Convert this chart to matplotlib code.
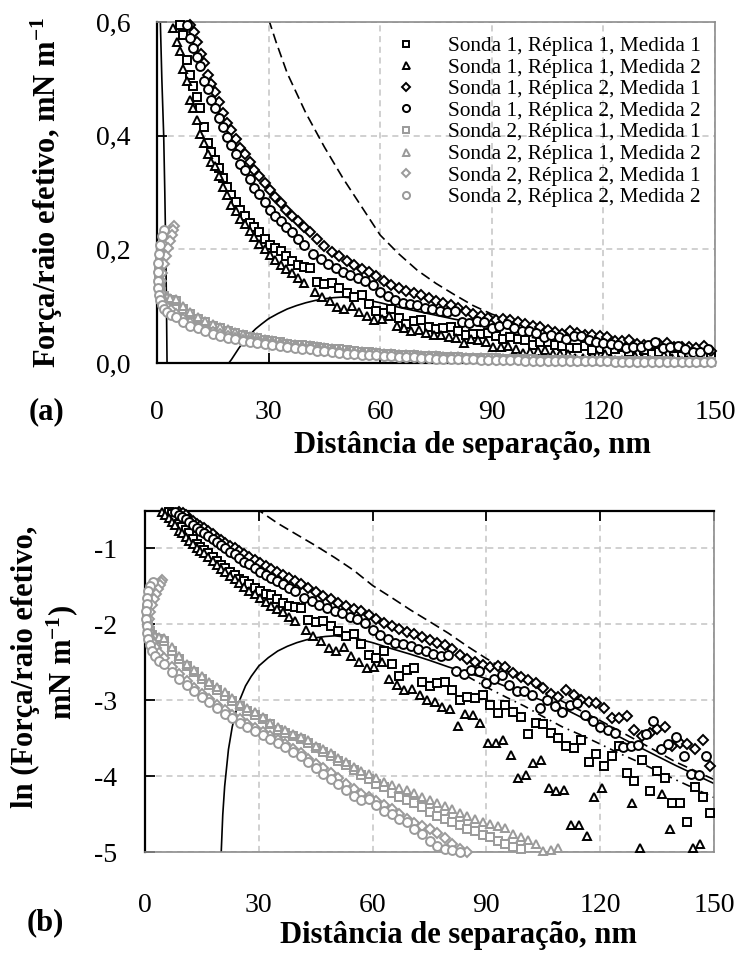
import numpy as np
import matplotlib
matplotlib.use("Agg")
import matplotlib.pyplot as plt

plt.rcParams['font.family'] = ['Liberation Serif', 'DejaVu Serif']
plt.rcParams['mathtext.fontset'] = 'custom'
plt.rcParams['mathtext.rm'] = 'Liberation Serif'
plt.rcParams['mathtext.it'] = 'Liberation Serif:italic'
plt.rcParams['mathtext.bf'] = 'Liberation Serif:bold'

# ---------------------------------------------------------------------------
# Measured ln(force / effective radius) [ln(mN/m)].
# Close to contact the separation steps are finer (listed explicitly);
# further out the curves are sampled every 2 nm.
# ---------------------------------------------------------------------------
STEP = 2.0

# Probe 1, replica 1, run 1
sep_near_s1r1m1 = [6.2, 7.1, 8.0, 8.9, 9.8, 10.7, 11.6, 12.6, 13.6, 14.6, 15.6, 16.7, 17.8,
                   18.9, 20.0, 21.2, 22.4, 23.6, 24.9, 26.2, 27.5, 28.9, 30.3, 31.8, 33.3,
                   34.8, 36.4, 38.0, 39.6]
ln_near_s1r1m1 = [-0.52, -0.55, -0.63, -0.68, -0.72, -0.76, -0.80, -0.88, -0.95, -0.99,
                  -1.03, -1.07, -1.12, -1.17, -1.22, -1.26, -1.31, -1.35, -1.40, -1.43,
                  -1.47, -1.52, -1.57, -1.60, -1.62, -1.67, -1.72, -1.76, -1.78]
start_far_s1r1m1 = 41.0
ln_far_s1r1m1 = [-1.79, -1.95, -1.97,
                 -1.96, -2.03, -2.09, -2.16, -2.13, -2.26, -2.40, -2.44, -2.36, -2.53,
                 -2.68, -2.60, -2.58, -2.76, -2.82, -2.78, -2.76, -2.87, -3.00, -2.96,
                 -2.97, -2.93, -3.06, -3.17, -3.07, -3.16, -3.22, -3.45, -3.30, -3.31,
                 -3.43, -3.50, -3.61, -3.63, -3.52, -3.81, -3.71, -3.87, -3.74, -3.60,
                 -3.96, -4.07, -3.79, -4.20, -3.94, -4.02, -4.36, -4.36, -4.60, -4.15,
                 -4.28, -4.49]

# Probe 1, replica 1, run 2
sep_near_s1r1m2 = [4.4, 5.3, 6.2, 7.1, 8.0, 8.9, 9.8, 10.7, 11.6, 12.6, 13.6, 14.6, 15.6,
                   16.7, 17.8, 18.9, 20.0, 21.2, 22.4, 23.6, 24.9, 26.2, 27.5, 28.9, 30.3,
                   31.8, 33.3, 34.8, 36.4, 38.0, 39.6]
ln_near_s1r1m2 = [-0.53, -0.57, -0.60, -0.66, -0.70, -0.77, -0.80, -0.85, -0.91, -0.95,
                  -1.00, -1.04, -1.06, -1.11, -1.17, -1.22, -1.28, -1.32, -1.37, -1.41,
                  -1.46, -1.51, -1.56, -1.61, -1.66, -1.71, -1.76, -1.80, -1.84, -1.90,
                  -1.96]
start_far_s1r1m2 = 42.4
ln_far_s1r1m2 = [-2.08,
                 -2.15, -2.22, -2.32, -2.36, -2.30, -2.42, -2.50, -2.58, -2.56, -2.50,
                 -2.72, -2.80, -2.87, -2.86, -2.93, -3.00, -3.02, -3.09, -3.12, -3.34,
                 -3.18, -3.20, -3.30, -3.57, -3.56, -3.52, -3.72, -4.03, -3.98, -3.83,
                 -3.79, -4.16, -4.20, -4.19, -4.64, -4.64, -4.79, -4.27, -4.16, -5.30,
                 -5.45, -5.20, -4.35, -4.95, -5.35, -5.60, -4.23, -4.70, -5.25, -5.40,
                 -4.95, -4.90, -5.50]

# Probe 1, replica 2, run 1
sep_near_s1r2m1 = [9.0, 9.9, 10.8, 11.7, 12.6, 13.6, 14.6, 15.6, 16.7, 17.8, 18.9, 20.0,
                   21.2, 22.4, 23.6, 24.9, 26.2, 27.5, 28.9, 30.3, 31.8, 33.3, 34.8, 36.4,
                   38.0, 39.6]
ln_near_s1r2m1 = [-0.52, -0.54, -0.57, -0.61, -0.64, -0.68, -0.71, -0.74, -0.78, -0.82,
                  -0.86, -0.89, -0.93, -0.97, -1.00, -1.04, -1.08, -1.11, -1.15, -1.19,
                  -1.23, -1.27, -1.31, -1.35, -1.39, -1.43]
start_far_s1r2m1 = 41.0
ln_far_s1r2m1 = [-1.47, -1.52, -1.58, -1.63,
                 -1.67, -1.72, -1.76, -1.80, -1.83, -1.88, -1.93, -1.98, -2.03, -2.07,
                 -2.10, -2.13, -2.17, -2.21, -2.25, -2.28, -2.33, -2.40, -2.46, -2.50,
                 -2.54, -2.57, -2.55, -2.57, -2.64, -2.69, -2.74, -2.77, -2.84, -2.92,
                 -2.96, -2.87, -2.93, -3.00, -3.02, -3.04, -3.10, -3.24, -3.24, -3.21,
                 -3.39, -3.47, -3.43, -3.38, -3.36, -3.60, -3.56, -3.58, -3.65, -3.52,
                 -3.87]

# Probe 1, replica 2, run 2
sep_near_s1r2m2 = [8.0, 8.9, 9.8, 10.7, 11.6, 12.6, 13.6, 14.6, 15.6, 16.7, 17.8, 18.9,
                   20.0, 21.2, 22.4, 23.6, 24.9, 26.2, 27.5, 28.9, 30.3, 31.8, 33.3, 34.8,
                   36.4, 38.0, 39.6]
ln_near_s1r2m2 = [-0.52, -0.56, -0.59, -0.62, -0.65, -0.70, -0.73, -0.77, -0.80, -0.84,
                  -0.88, -0.92, -0.96, -1.00, -1.05, -1.08, -1.13, -1.18, -1.21, -1.26,
                  -1.31, -1.35, -1.39, -1.43, -1.47, -1.52, -1.57]
start_far_s1r2m2 = 42.0
ln_far_s1r2m2 = [-1.65, -1.70, -1.75,
                 -1.79, -1.83, -1.86, -1.90, -1.93, -1.98, -2.08, -2.14, -2.20, -2.25,
                 -2.26, -2.29, -2.33, -2.36, -2.39, -2.42, -2.40, -2.62, -2.66, -2.60,
                 -2.62, -2.78, -2.72, -2.67, -2.80, -2.88, -2.88, -2.93, -3.10, -3.00,
                 -3.08, -3.16, -3.06, -3.04, -3.20, -3.28, -3.35, -3.40, -3.43, -3.62,
                 -3.60, -3.59, -3.45, -3.28, -3.64, -3.58, -3.49, -3.74, -3.97, -3.99,
                 -3.74]

# Probe 2: contact region (near-constant separation) followed by the decay
start_far_s2 = 5.0

sep_near_s2r1m1 = [3.0, 2.2, 1.5, 1.0, 0.7, 0.5, 0.5, 0.6, 0.8, 1.2, 1.8, 2.6, 3.6]
ln_near_s2r1m1 = [-1.47, -1.52, -1.58, -1.65, -1.72, -1.80, -1.88, -1.96, -2.03, -2.09,
                  -2.14, -2.18, -2.20]
ln_far_s2r1m1 = [-2.22, -2.35, -2.46, -2.55, -2.63, -2.72, -2.80, -2.87, -2.94, -3.01,
                 -3.08, -3.14, -3.19, -3.25, -3.32, -3.39, -3.43, -3.47, -3.51, -3.56,
                 -3.63, -3.69, -3.74, -3.80, -3.86, -3.92, -3.98, -4.04, -4.10, -4.15,
                 -4.22, -4.28, -4.31, -4.36, -4.41, -4.47, -4.53, -4.57, -4.61, -4.64,
                 -4.70, -4.72, -4.77, -4.80, -4.85, -4.89, -4.93, -4.96, -5.05, -5.12,
                 -5.20, -5.24, -5.31, -5.35, -5.43, -5.46, -5.50, -5.56, -5.60, -5.63,
                 -5.68, -5.71, -5.75, -5.79, -5.83, -5.86, -5.90, -5.94, -5.97, -6.00,
                 -6.03, -6.07, -6.10]

sep_near_s2r1m2 = [2.5, 1.8, 1.2, 0.8, 0.6, 0.5, 0.6, 0.8, 1.2, 1.8, 2.6, 3.6]
ln_near_s2r1m2 = [-1.50, -1.55, -1.62, -1.70, -1.78, -1.87, -1.95, -2.02, -2.08, -2.12,
                  -2.15, -2.17]
ln_far_s2r1m2 = [-2.18, -2.30, -2.42, -2.52, -2.60, -2.68, -2.76, -2.83, -2.90, -2.97,
                 -3.05, -3.10, -3.16, -3.22, -3.30, -3.36, -3.40, -3.44, -3.48, -3.53,
                 -3.60, -3.65, -3.70, -3.76, -3.82, -3.88, -3.93, -3.97, -4.02, -4.08,
                 -4.12, -4.16, -4.19, -4.22, -4.27, -4.32, -4.36, -4.40, -4.44, -4.48,
                 -4.53, -4.56, -4.60, -4.63, -4.66, -4.69, -4.76, -4.80, -4.84, -4.90,
                 -4.99, -4.97, -4.95, -5.08, -5.15, -5.20, -5.26, -5.30, -5.36, -5.41,
                 -5.45, -5.50, -5.55, -5.58, -5.63, -5.67, -5.70, -5.74, -5.78, -5.81,
                 -5.85, -5.88, -5.92]

sep_near_s2r2m1 = [4.6, 4.2, 3.9, 3.5, 3.0, 2.4, 1.8, 1.3, 1.0, 0.9, 1.0, 1.4, 2.0, 2.8, 3.8]
ln_near_s2r2m1 = [-1.42, -1.45, -1.49, -1.54, -1.60, -1.67, -1.75, -1.84, -1.93, -2.02,
                  -2.10, -2.18, -2.25, -2.32, -2.38]
ln_far_s2r2m1 = [-2.45, -2.56, -2.66, -2.75, -2.84, -2.92, -2.99, -3.06, -3.13, -3.19,
                 -3.25, -3.31, -3.37, -3.42, -3.47, -3.53, -3.58, -3.64, -3.70, -3.77,
                 -3.84, -3.90, -3.96, -4.02, -4.10, -4.17, -4.23, -4.28, -4.33, -4.38,
                 -4.44, -4.50, -4.57, -4.62, -4.66, -4.70, -4.75, -4.82, -4.90, -4.96,
                 -5.00, -5.06, -5.12, -5.17, -5.23, -5.28, -5.33, -5.38, -5.43, -5.47,
                 -5.52, -5.56, -5.61, -5.65, -5.69, -5.73, -5.77, -5.81, -5.85, -5.88,
                 -5.92, -5.96, -5.99, -6.02, -6.06, -6.09, -6.12, -6.16, -6.19, -6.22,
                 -6.25, -6.28, -6.31]

sep_near_s2r2m2 = [2.0, 1.4, 0.9, 0.6, 0.4, 0.3, 0.3, 0.4, 0.6, 0.9, 1.3, 1.9, 2.7, 3.7]
ln_near_s2r2m2 = [-1.45, -1.50, -1.57, -1.65, -1.74, -1.83, -1.93, -2.03, -2.12, -2.20,
                  -2.28, -2.35, -2.42, -2.48]
ln_far_s2r2m2 = [-2.52, -2.63, -2.72, -2.80, -2.88, -2.96, -3.03, -3.11, -3.18, -3.24,
                 -3.30, -3.36, -3.41, -3.46, -3.51, -3.57, -3.62, -3.68, -3.74, -3.82,
                 -3.90, -3.97, -4.04, -4.10, -4.18, -4.26, -4.31, -4.30, -4.38, -4.46,
                 -4.50, -4.56, -4.60, -4.70, -4.76, -4.85, -4.92, -4.96, -4.97, -5.00,
                 -5.08, -5.15, -5.21, -5.27, -5.32, -5.37, -5.42, -5.47, -5.51, -5.56,
                 -5.60, -5.64, -5.68, -5.72, -5.76, -5.80, -5.84, -5.88, -5.91, -5.95,
                 -5.98, -6.02, -6.05, -6.08, -6.12, -6.15, -6.18, -6.21, -6.24, -6.27,
                 -6.30, -6.33, -6.36]

# ---------------------------------------------------------------------------
# Model curves: force / effective radius [mN/m] versus separation [nm]
# ---------------------------------------------------------------------------
sep_contact = [0.9, 1.3, 1.8, 2.1, 2.35, 2.55, 2.7, 2.8]
force_contact = [0.60, 0.50, 0.40, 0.30, 0.20, 0.10, 0.0, -0.05]

sep_model = [17.0, 19.3, 20.0, 20.5, 21.0, 22.0, 23.0, 24.0, 25.0, 26.5, 28.0, 30.0,
             32.5, 35.0, 37.5, 40.0, 42.5, 45.0, 47.5, 50.0, 55.0, 60.0, 65.0, 70.0,
             75.0, 80.0, 90.0, 100.0, 110.0, 120.0, 130.0, 140.0, 150.0]
force_model = [-0.025, 0.0, 0.006, 0.011, 0.016, 0.026, 0.035, 0.043, 0.050, 0.060,
               0.068, 0.078, 0.087, 0.095, 0.101, 0.106, 0.110, 0.113, 0.115, 0.116,
               0.113, 0.106, 0.098, 0.091, 0.084, 0.077, 0.066, 0.054, 0.045, 0.035,
               0.027, 0.021, 0.0166]

sep_dashed = [29.0, 30.0, 32.0, 35.0, 40.0, 45.0, 50.0, 55.0, 60.0, 65.0, 70.0, 75.0,
              80.0, 85.0, 90.0, 100.0, 110.0, 120.0, 130.0, 140.0, 150.0]
force_dashed = [0.63, 0.605, 0.565, 0.51, 0.44, 0.38, 0.325, 0.275, 0.225, 0.192,
                0.163, 0.140, 0.120, 0.101, 0.086, 0.064, 0.049, 0.038, 0.029, 0.022,
                0.0175]

sep_dashdot = [85.0, 90.0, 95.0, 100.0, 105.0, 110.0, 115.0, 120.0, 125.0, 130.0,
               135.0, 140.0, 145.0, 150.0]
force_dashdot = [0.068, 0.059, 0.052, 0.046, 0.040, 0.035, 0.0314, 0.0279, 0.0247,
                 0.0221, 0.0196, 0.0174, 0.0155, 0.0138]

# Axis ticks and labels
x_ticks = [0, 30, 60, 90, 120, 150]
y_ticks_a = [0.0, 0.2, 0.4, 0.6]
y_labels_a = ["0,0", "0,2", "0,4", "0,6"]
y_ticks_b = [-1, -2, -3, -4, -5]
y_labels_b = ["-1", "-2", "-3", "-4", "-5"]

labels = ["Sonda 1, Réplica 1, Medida 1", "Sonda 1, Réplica 1, Medida 2",
          "Sonda 1, Réplica 2, Medida 1", "Sonda 1, Réplica 2, Medida 2",
          "Sonda 2, Réplica 1, Medida 1", "Sonda 2, Réplica 1, Medida 2",
          "Sonda 2, Réplica 2, Medida 1", "Sonda 2, Réplica 2, Medida 2"]

BLACK = "#000000"
GREY = "#9a9a9a"


def build(sep_near, ln_near, start_far, ln_far):
    sep = np.r_[np.asarray(sep_near, float), start_far + STEP * np.arange(len(ln_far))]
    return sep, np.r_[np.asarray(ln_near, float), np.asarray(ln_far, float)]


series = [
    (*build(sep_near_s1r1m1, ln_near_s1r1m1, start_far_s1r1m1, ln_far_s1r1m1), "s", BLACK, 5.6),
    (*build(sep_near_s1r1m2, ln_near_s1r1m2, start_far_s1r1m2, ln_far_s1r1m2), "^", BLACK, 6.3),
    (*build(sep_near_s1r2m1, ln_near_s1r2m1, start_far_s1r2m1, ln_far_s1r2m1), "D", BLACK, 4.8),
    (*build(sep_near_s1r2m2, ln_near_s1r2m2, start_far_s1r2m2, ln_far_s1r2m2), "o", BLACK, 6.4),
    (*build(sep_near_s2r1m1, ln_near_s2r1m1, start_far_s2, ln_far_s2r1m1), "s", GREY, 5.6),
    (*build(sep_near_s2r1m2, ln_near_s2r1m2, start_far_s2, ln_far_s2r1m2), "^", GREY, 6.3),
    (*build(sep_near_s2r2m1, ln_near_s2r2m1, start_far_s2, ln_far_s2r2m1), "D", GREY, 4.8),
    (*build(sep_near_s2r2m2, ln_near_s2r2m2, start_far_s2, ln_far_s2r2m2), "o", GREY, 6.4),
]

fig = plt.figure(figsize=(7.41, 9.57), dpi=100)
W, H = 741.0, 957.0
ax_a = fig.add_axes([157 / W, 1 - 363 / H, 558 / W, 341 / H])
ax_b = fig.add_axes([145 / W, 1 - 852 / H, 569 / W, 341 / H])

Y_TOP = 0.6
LN_TOP = np.log(Y_TOP)
LN_BOTTOM = -5.0

# ---- model curves --------------------------------------------------------
line_kw = dict(color="black", lw=1.2, zorder=2)
DASH = (0, (6, 3))
DASHDOT = (0, (5, 3, 1, 3))
ax_a.plot(sep_contact, force_contact, ls="-", **line_kw)
ax_a.plot(sep_model, force_model, ls="-", **line_kw)
ax_a.plot(sep_dashed, force_dashed, ls=DASH, **line_kw)
ax_a.plot(sep_dashdot, force_dashdot, ls=DASHDOT, **line_kw)


def ln_curve(sep, force):
    sep = np.asarray(sep, float)
    force = np.asarray(force, float)
    ok = force > 0
    return sep[ok], np.log(force[ok])


ax_b.plot(*ln_curve(sep_model, force_model), ls="-", **line_kw)
ax_b.plot(*ln_curve(sep_dashed, force_dashed), ls=DASH, **line_kw)
ax_b.plot(*ln_curve(sep_dashdot, force_dashdot), ls=DASHDOT, **line_kw)

# ---- measured data -------------------------------------------------------
MEW = 1.4
for (sep, ln_vals, marker, color, ms), label in zip(series, labels):
    force = np.exp(ln_vals)
    keep_a = force <= Y_TOP + 1e-9
    ax_a.plot(sep[keep_a], force[keep_a], ls="none", marker=marker, ms=ms,
              mfc="white", mec=color, mew=MEW, clip_on=False, zorder=3, label=label)
    keep_b = (ln_vals >= LN_BOTTOM - 0.02) & (ln_vals <= LN_TOP + 1e-9)
    ax_b.plot(sep[keep_b], ln_vals[keep_b], ls="none", marker=marker, ms=ms,
              mfc="white", mec=color, mew=MEW, clip_on=False, zorder=3)

# ---- axes styling --------------------------------------------------------
grid_kw = dict(color="#c4c4c4", lw=1.1, ls=(0, (4, 3)))
TICK_FS = 20

for ax in (ax_a, ax_b):
    ax.set_xlim(0, 150)
    ax.set_xticks(x_ticks)
    ax.set_xticklabels([str(t) for t in x_ticks])
    ax.grid(True, **grid_kw)
    ax.set_axisbelow(True)
    ax.tick_params(direction="in", length=7, width=1.3, labelsize=TICK_FS, color="black")
    ax.spines["left"].set_linewidth(1.6)
    ax.spines["right"].set_color("#8c8c8c")
    ax.spines["right"].set_linewidth(1.2)

ax_a.set_ylim(0, Y_TOP)
ax_a.set_yticks(y_ticks_a)
ax_a.set_yticklabels(y_labels_a)
ax_a.spines["bottom"].set_linewidth(1.6)
ax_a.spines["top"].set_color("#8c8c8c")
ax_a.spines["top"].set_linewidth(1.2)
ax_a.tick_params(axis="x", pad=26.5)
ax_a.tick_params(axis="y", pad=19)

ax_b.set_ylim(LN_BOTTOM, LN_TOP)
ax_b.set_yticks(y_ticks_b)
ax_b.set_yticklabels(y_labels_b)
ax_b.spines["top"].set_linewidth(1.6)
ax_b.spines["bottom"].set_color("#8c8c8c")
ax_b.spines["bottom"].set_linewidth(1.2)
ax_b.tick_params(axis="x", top=True, bottom=False, labeltop=False, labelbottom=True, pad=29.5)
ax_b.tick_params(axis="y", pad=20)

leg = ax_a.legend(loc="upper left", bbox_to_anchor=(0.4265, 0.958), frameon=False,
                  fontsize=15.3, handlelength=1.0, handletextpad=1.5, borderpad=0,
                  borderaxespad=0, labelspacing=0.08, markerscale=0.8)

# ---- text labels ---------------------------------------------------------
LAB_FS = 22
fig.text(472 / W, 1 - 445 / H, "Distância de separação, nm", ha="center", va="center",
         fontsize=LAB_FS, fontweight="bold")
fig.text(458 / W, 1 - 936 / H, "Distância de separação, nm", ha="center", va="center",
         fontsize=LAB_FS, fontweight="bold")
fig.text(47 / W, 1 - 193 / H, r"Força/raio efetivo, mN m$^{\mathbf{-1}}$", rotation=90,
         ha="center", va="center", fontsize=LAB_FS, fontweight="bold")
fig.text(25 / W, 1 - 667 / H, "ln (Força/raio efetivo,", rotation=90,
         ha="center", va="center", fontsize=LAB_FS, fontweight="bold")
fig.text(62 / W, 1 - 662 / H, r"mN m$^{\mathbf{-1}}$)", rotation=90,
         ha="center", va="center", fontsize=LAB_FS, fontweight="bold")
fig.text(46 / W, 1 - 412 / H, "(a)", ha="center", va="center", fontsize=LAB_FS,
         fontweight="bold")
fig.text(45 / W, 1 - 923 / H, "(b)", ha="center", va="center", fontsize=LAB_FS,
         fontweight="bold")

fig.savefig("out.png", dpi=100, facecolor="white")
